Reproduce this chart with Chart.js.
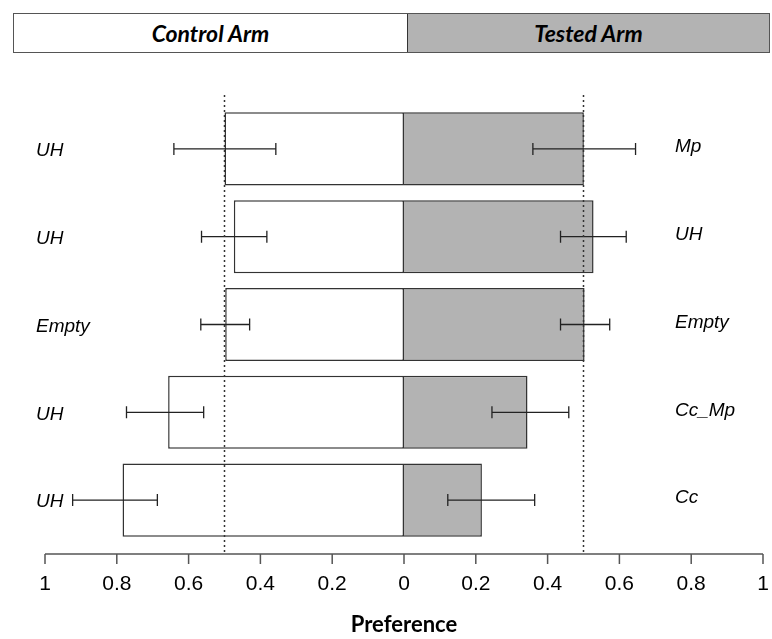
<!DOCTYPE html>
<html>
<head>
<meta charset="utf-8">
<script src="https://cdn.jsdelivr.net/npm/chart.js@4"></script>
<style>
  html, body { margin: 0; padding: 0; background: #fff; }
  #wrap { position: relative; width: 772px; height: 639px; }
  #head {
    position: absolute; left: 13px; top: 13px; width: 755px; height: 38px;
    border: 1.5px solid #555; display: flex;
    font-family: Lato, "Open Sans", sans-serif; font-weight: bold; font-style: italic; font-size: 23px;
  }
  #head div { display: flex; align-items: center; justify-content: center; }
  #ctrl { width: 393px; background: #fff; border-right: 1.5px solid #333; }
  #test { flex: 1; background: #b3b3b3; }
</style>
</head>
<body>
<div id="wrap">
  <canvas id="chart" width="772" height="639"></canvas>
  <div id="head"><div id="ctrl">Control Arm</div><div id="test">Tested Arm</div></div>
</div>
<script>
const controlLabels = ['UH', 'UH', 'Empty', 'UH', 'UH'];
const testedLabels = ['Mp', 'UH', 'Empty', 'Cc_Mp', 'Cc'];
const controlPref = [0.500, 0.474, 0.498, 0.657, 0.784];
const testedPref = [0.501, 0.528, 0.503, 0.344, 0.217];
// error bar ends, as preference values
const controlErrLow = [0.357, 0.382, 0.430, 0.558, 0.687];
const controlErrHigh = [0.641, 0.564, 0.566, 0.773, 0.923];
const testedErrLow = [0.359, 0.436, 0.436, 0.245, 0.122];
const testedErrHigh = [0.645, 0.619, 0.573, 0.459, 0.364];
const refLines = [-0.5, 0.5];

const rows = controlLabels.map((c, i) => c + ' vs ' + testedLabels[i]);

const extras = {
  id: 'extras',
  afterDatasetsDraw(chart) {
    const ctx = chart.ctx;
    const xs = chart.scales.x, ys = chart.scales.y;
    const area = chart.chartArea;
    const axisY = area.bottom + 10;

    // error bars
    ctx.save();
    ctx.strokeStyle = '#222';
    ctx.lineWidth = 1.3;
    const bar = (a, b, y) => {
      const x1 = xs.getPixelForValue(a), x2 = xs.getPixelForValue(b);
      ctx.beginPath();
      ctx.moveTo(x1, y); ctx.lineTo(x2, y);
      ctx.moveTo(x1, y - 6); ctx.lineTo(x1, y + 6);
      ctx.moveTo(x2, y - 6); ctx.lineTo(x2, y + 6);
      ctx.stroke();
    };
    rows.forEach((r, i) => {
      const y = ys.getPixelForValue(i);
      bar(-controlErrHigh[i], -controlErrLow[i], y);
      bar(testedErrLow[i], testedErrHigh[i], y);
    });

    // dotted reference lines
    ctx.strokeStyle = '#333';
    ctx.lineWidth = 1.5;
    ctx.setLineDash([2, 3]);
    refLines.forEach(v => {
      const x = xs.getPixelForValue(v);
      ctx.beginPath();
      ctx.moveTo(x, area.top - 10); ctx.lineTo(x, axisY);
      ctx.stroke();
    });
    ctx.setLineDash([]);

    // x axis line with ticks
    ctx.strokeStyle = '#555';
    ctx.lineWidth = 1.5;
    ctx.beginPath();
    ctx.moveTo(xs.getPixelForValue(-1), axisY);
    ctx.lineTo(xs.getPixelForValue(1), axisY);
    xs.ticks.forEach(t => {
      const x = xs.getPixelForValue(t.value);
      ctx.moveTo(x, axisY); ctx.lineTo(x, axisY + 10);
    });
    ctx.stroke();

    // row labels
    ctx.fillStyle = '#000';
    ctx.font = 'italic 19px "Liberation Sans", Arial, sans-serif';
    ctx.textBaseline = 'middle';
    ctx.textAlign = 'left';
    rows.forEach((r, i) => {
      const y = ys.getPixelForValue(i);
      ctx.fillText(controlLabels[i], 36, y + 2);
      ctx.fillText(testedLabels[i], 675, y - 2);
    });
    ctx.restore();
  }
};

new Chart(document.getElementById('chart'), {
  type: 'bar',
  data: {
    labels: rows,
    datasets: [
      {
        label: 'Control Arm',
        data: controlPref.map(v => -v),
        backgroundColor: '#ffffff',
        borderColor: '#333',
        borderWidth: 1.5,
        borderSkipped: false
      },
      {
        label: 'Tested Arm',
        data: testedPref,
        backgroundColor: '#b3b3b3',
        borderColor: '#333',
        borderWidth: { top: 1.5, right: 1.5, bottom: 1.5, left: 0 },
        borderSkipped: false
      }
    ]
  },
  options: {
    indexAxis: 'y',
    responsive: false,
    animation: false,
    layout: { autoPadding: false, padding: { top: 105, left: 45, right: 9, bottom: 0 } },
    datasets: { bar: { categoryPercentage: 1, barPercentage: 0.833 } },
    scales: {
      x: {
        stacked: true,
        min: -1,
        max: 1,
        grid: { display: false, drawTicks: false },
        border: { display: false },
        ticks: {
          stepSize: 0.2,
          padding: 28,
          color: '#000',
          maxRotation: 0,
          font: { family: '"Liberation Sans", Arial, sans-serif', size: 21 },
          callback: v => String(Math.abs(Math.round(v * 10) / 10))
        },
        title: {
          display: true,
          text: 'Preference',
          color: '#000',
          padding: { top: 0, bottom: 1 },
          font: { family: 'Lato, "Open Sans", sans-serif', size: 22, weight: 'bold' }
        },
        afterFit: s => { s.height = 95; s.paddingLeft = 0; s.paddingRight = 0; }
      },
      y: { stacked: true, display: false }
    },
    plugins: {
      legend: { display: false },
      tooltip: { enabled: false }
    }
  },
  plugins: [extras]
});
</script>
</body>
</html>
